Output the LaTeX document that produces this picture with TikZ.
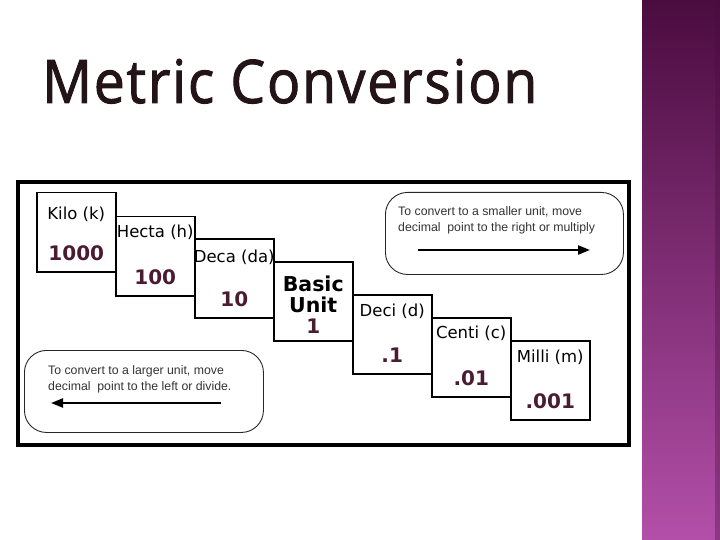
\documentclass[tikz,border=0pt]{standalone}
\usepackage{fontspec}
\setmainfont{DejaVu Sans}
\newfontfamily\titlefont{Open Sans}[LetterSpace=3, FakeStretch=0.92, FakeBold=1.6]
\newfontfamily\notefont{Liberation Sans}
\usetikzlibrary{arrows.meta}

\definecolor{titlecol}{HTML}{231418}
\definecolor{valcol}{HTML}{4A1C32}
\definecolor{stripTop}{HTML}{4A0C3F}
\definecolor{stripMid}{HTML}{7B2D70}
\definecolor{stripBot}{HTML}{B34FA9}

\begin{document}
\begin{tikzpicture}[
    x=1pt, y=-1pt,
    >={Triangle[length=12pt, width=9pt]},
    unitbox/.style={draw=black, line width=1.5pt, minimum width=79pt,
        minimum height=79pt, anchor=north west, inner sep=0pt},
    unitname/.style={font=\fontsize{16.5}{19}\selectfont, inner sep=0pt},
    unitval/.style={font=\fontsize{20}{24}\selectfont\bfseries, text=valcol, inner sep=0pt},
    notebox/.style={draw=black!85, line width=0.9pt, rounded corners=22pt,
        minimum width=238pt, minimum height=82pt, anchor=north west},
    notetext/.style={font=\notefont\fontsize{12.3}{16}\selectfont, text=black!80,
        align=left, anchor=north west, inner sep=0pt},
    notearrow/.style={->, line width=2.2pt},
]
\useasboundingbox (0,0) rectangle (720,540);

% === Side strip ===
\shade[top color=stripTop, middle color=stripMid, bottom color=stripBot]
    (642,0) rectangle (720,540);
\fill[stripTop, opacity=0.35] (715,0) rectangle (720,540);

% === Title ===
\node[font=\titlefont\fontsize{60}{60}\selectfont, text=titlecol,
    anchor=base west, inner sep=0pt] (title) at (42,103) {Metric Conversion};

% === Frame ===
\draw[line width=4pt] (18,182) rectangle (629,445);

% === Unit boxes (name/left/top/label/value/label offset) ===
\foreach \nm/\xl/\yt/\lab/\val/\ly in {
    kilo/36/192/Kilo (k)/1000/22,
    hecta/115/216/Hecta (h)/100/16,
    deca/194/238/Deca (da)/10/19,
    deci/352/294/Deci (d)/.1/17,
    centi/431/317/Centi (c)/.01/16,
    milli/510/340/Milli (m)/.001/17} {
    \node[unitbox] (\nm) at (\xl,\yt) {};
    \node[unitname] (\nm-name) at ([yshift=-\ly pt]\nm.north) {\lab};
    \node[unitval] (\nm-val) at ([yshift=-61pt]\nm.north) {\val};
}

% Basic unit
\node[unitbox] (basic) at (273,261) {};
\node[font=\fontsize{20.5}{21}\selectfont\bfseries, align=center, inner sep=0pt]
    (basic-name) at ([yshift=-33pt]basic.north) {Basic\\Unit};
\node[unitval] (basic-val) at ([yshift=-65pt]basic.north) {1};

% === Conversion notes ===
\node[notebox] (smaller) at (385,192) {};
\node[notetext] (smaller-text) at (398,206)
    {To convert to a smaller unit, move\\decimal\ \ point to the right or multiply};
\coordinate (smaller-from) at (418,250);
\coordinate (smaller-to) at (590,250);
\draw[notearrow] (smaller-from) -- (smaller-to);

\node[notebox, minimum width=239pt] (larger) at (24,350) {};
\node[notetext] (larger-text) at (48,365)
    {To convert to a larger unit, move\\decimal\ \ point to the left or divide.};
\coordinate (larger-from) at (221,403);
\coordinate (larger-to) at (51,403);
\draw[notearrow] (larger-from) -- (larger-to);

\end{tikzpicture}
\end{document}
